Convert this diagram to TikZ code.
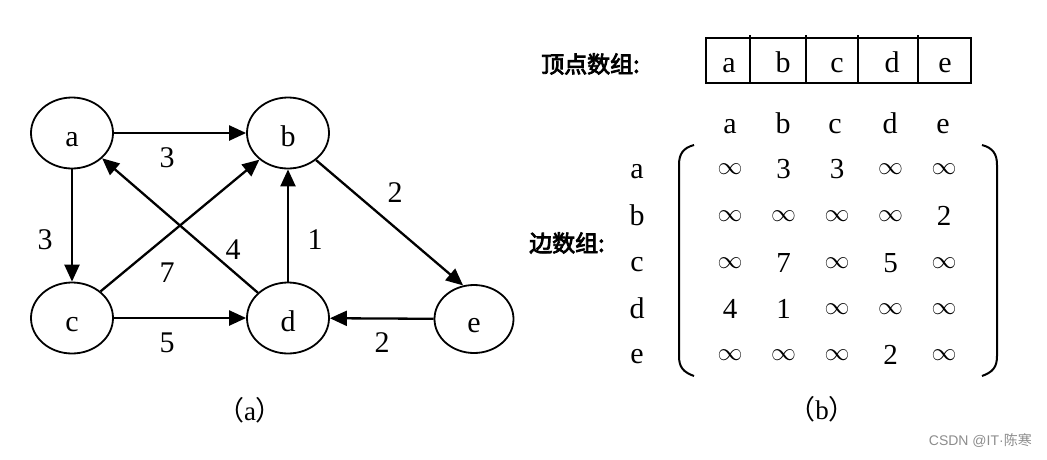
\documentclass[tikz,border=0pt]{standalone}
\usepackage{fontspec}
\setmainfont{Liberation Serif}
\newfontfamily\cjkb{Noto Sans CJK SC}[FakeBold=3.5]
\newfontfamily\cjk{Noto Sans CJK SC}
\newfontfamily\wmfont{Liberation Sans}
\usetikzlibrary{shapes.geometric,arrows.meta}
\begin{document}
\begin{tikzpicture}[x=1pt,y=-1pt,
  vtx/.style={ellipse, draw, line width=1.8pt, minimum width=82pt, minimum height=71pt, inner sep=0pt, text height=26pt, text depth=0pt, font=\fontsize{30}{30}\selectfont},
  arc/.style={line width=2.3pt, -{Triangle[length=17pt,width=15pt]}},
  txt/.style={inner sep=0pt, font=\fontsize{30}{30}\selectfont},
  lett/.style={inner sep=0pt, anchor=base, font=\fontsize{30}{30}\selectfont},
  inf/.style={inner sep=0pt, font=\fontsize{29}{29}\selectfont},
  lab/.style={inner sep=0pt, font=\cjkb\fontsize{23}{23}\selectfont},
  captxt/.style={inner sep=0pt, font=\fontsize{27}{27}\selectfont},
  bline/.style={line width=2.6pt}]
\useasboundingbox (0,0) rectangle (1047,459);
% graph
\node[vtx] (a) at (72,133) {a};
\node[vtx] (b) at (288,133) {b};
\node[vtx] (c) at (72,318) {c};
\node[vtx] (d) at (288,318) {d};
\node[vtx, minimum width=79pt, minimum height=68pt] (e) at (474,319) {e};
\draw[arc] (a) -- (b);
\draw[arc] (a) -- (c);
\draw[arc] (c.43) -- (b.223);
\draw[arc] (d.140) -- (a.-40);
\draw[arc] (d) -- (b);
\draw[arc] (b.-44) -- (e.108);
\draw[arc] (c) -- (d);
\draw[arc] (e) -- (d);
\node[txt] (wab) at (167,158) {3};
\node[txt] (wac) at (45,240) {3};
\node[txt] (wcb) at (167,273) {7};
\node[txt] (wda) at (233,250) {4};
\node[txt] (wdb) at (315,240) {1};
\node[txt] (wbe) at (395,193) {2};
\node[txt] (wcd) at (167,343) {5};
\node[txt] (wed) at (382,343) {2};
\node[captxt] (capa) at (250,410) {{\cjk （}a{\cjk ）}};
% vertex array
\node[lab, anchor=west] (l1) at (541,64) {顶点数组:};
\draw[bline] (706,38) rectangle (971,83);
\foreach \x in {750,806,858,918} \draw[bline] (\x,35) -- (\x,83);
\node[lett] (va) at (729,72) {a};
\node[lett] (vb) at (783,72) {b};
\node[lett] (vc) at (837,72) {c};
\node[lett] (vd) at (892,72) {d};
\node[lett] (ve) at (945,72) {e};
% edge array
\node[lab, anchor=west] (l2) at (529,243) {边数组:};
\foreach \n/\x in {a/730,b/783,c/835,d/890,e/943}
  \node[lett] (h\n) at (\x,133) {\n};
\foreach \n/\y in {a/178,b/225,c/271,d/318,e/363}
  \node[lett] (r\n) at (637,\y) {\n};
\draw[bline, line width=2pt] (694,145) .. controls (683,148) and (679,154) .. (679,165) -- (679,356) .. controls (679,367) and (683,372) .. (694,376);
\draw[bline, line width=2pt] (982,145) .. controls (993,148) and (997,154) .. (997,165) -- (997,356) .. controls (997,367) and (993,372) .. (982,376);
% rows
\foreach \v [count=\i] in {$\infty$,3,3,$\infty$,$\infty$}
  \node[inf] (ma\i) at ({730+(\i-1)*53.5},169) {\v};
\foreach \v [count=\i] in {$\infty$,$\infty$,$\infty$,$\infty$,2}
  \node[inf] (mb\i) at ({730+(\i-1)*53.5},216) {\v};
\foreach \v [count=\i] in {$\infty$,7,$\infty$,5,$\infty$}
  \node[inf] (mc\i) at ({730+(\i-1)*53.5},263) {\v};
\foreach \v [count=\i] in {4,1,$\infty$,$\infty$,$\infty$}
  \node[inf] (md\i) at ({730+(\i-1)*53.5},309) {\v};
\foreach \v [count=\i] in {$\infty$,$\infty$,$\infty$,2,$\infty$}
  \node[inf] (me\i) at ({730+(\i-1)*53.5},355) {\v};
\node[captxt] (capb) at (822,409) {{\cjk （}b{\cjk ）}};
\node[inner sep=0pt, anchor=east, text=black!45, font=\cjk\fontsize{14}{14}\selectfont] (wm) at (1032,441) {\wmfont CSDN @IT·\cjk 陈寒};
\end{tikzpicture}
\end{document}
